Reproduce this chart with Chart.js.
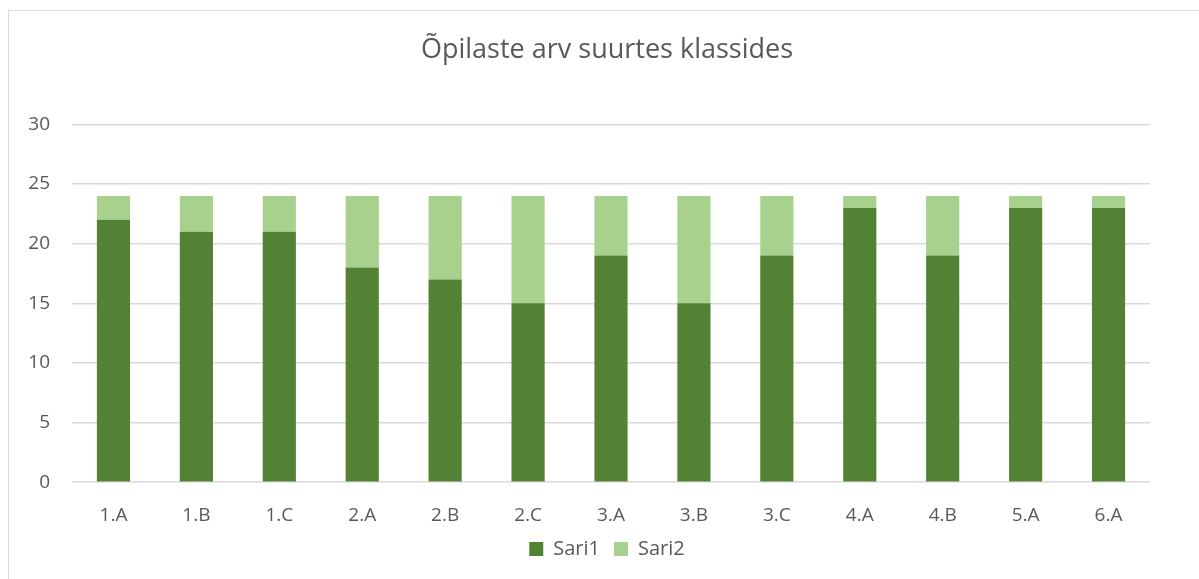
<!DOCTYPE html>
<html>
<head>
<meta charset="utf-8">
<script src="https://cdn.jsdelivr.net/npm/chart.js@4"></script>
<style>
  body { margin: 0; background: #fff; overflow: hidden; }
  #frame { position: absolute; left: 8px; top: 10px; width: 1300px; height: 700px; border: 1.5px solid #d9d9d9; }
  #wrap { position: absolute; left: 0; top: 0; width: 1199px; height: 579px; }
</style>
</head>
<body>
<div id="frame"></div>
<div id="wrap"><canvas id="grafico" width="1199" height="579"></canvas></div>
<script>
// klassid ja õpilaste arv
const klassid = ["1.A", "1.B", "1.C", "2.A", "2.B", "2.C", "3.A", "3.B", "3.C", "4.A", "4.B", "5.A", "6.A"];
const sari1 = [22, 21, 21, 18, 17, 15, 19, 15, 19, 23, 19, 23, 23];
const sari2 = [2, 3, 3, 6, 7, 9, 5, 9, 5, 1, 5, 1, 1];
const yTicks = [0, 5, 10, 15, 20, 25, 30];

const fontName = "'Open Sans', sans-serif";
const gray = "#595959";

const ctx = document.getElementById("grafico").getContext("2d");
new Chart(ctx, {
  type: "bar",
  data: {
    labels: klassid,
    datasets: [
      { label: "Sari1", data: sari1, backgroundColor: "#548235", borderWidth: 0 },
      { label: "Sari2", data: sari2, backgroundColor: "#a9d18e", borderWidth: 0 }
    ]
  },
  options: {
    responsive: false,
    animation: false,
    layout: { padding: { left: 15, right: 0, top: 0, bottom: 10 } },
    datasets: { bar: { categoryPercentage: 1, barPercentage: 0.4 } },
    plugins: {
      title: {
        display: true,
        text: "Õpilaste arv suurtes klassides",
        color: gray,
        font: { family: fontName, size: 27, weight: "normal" },
        padding: { top: 34, bottom: 58 }
      },
      legend: {
        position: "bottom",
        labels: {
          color: gray,
          font: { family: fontName, size: 20 },
          boxWidth: 14,
          boxHeight: 14,
          padding: 14
        }
      },
      tooltip: { enabled: false }
    },
    scales: {
      x: {
        stacked: true,
        afterFit: s => { s.height = s.height - 16; },
        grid: { display: false },
        border: { display: false },
        ticks: { color: gray, font: { family: fontName, size: 19 }, padding: 14, maxRotation: 0 }
      },
      y: {
        stacked: true,
        min: 0,
        max: 30,
        afterFit: s => { s.width = 57; },
        afterBuildTicks: s => { s.ticks = yTicks.map(v => ({ value: v })); },
        grid: { color: "#d9d9d9", lineWidth: 1.5, drawTicks: false },
        border: { display: false },
        ticks: { color: gray, font: { family: fontName, size: 19 }, padding: 22 }
      },
      // tühi telg paremal, et jätta ruumi nagu Excelis
      yRight: {
        position: "right",
        min: 0,
        max: 30,
        afterFit: s => { s.width = 49; },
        grid: { display: false },
        border: { display: false },
        ticks: { display: false }
      }
    }
  }
});
</script>
</body>
</html>
